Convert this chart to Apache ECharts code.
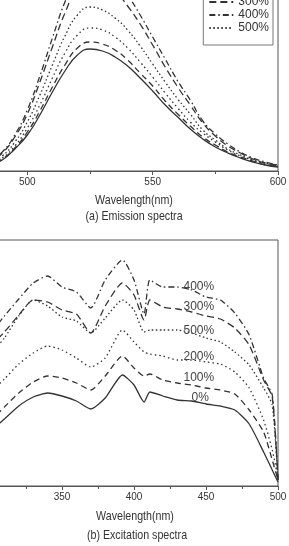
<!DOCTYPE html>
<html>
<head>
<meta charset="utf-8">
<script src="https://cdn.jsdelivr.net/npm/echarts@6/dist/echarts.min.js"></script>
<style>
  html, body { margin: 0; padding: 0; background: #fff; }
  #mychart { width: 289px; height: 546px; }
</style>
</head>
<body>
<div id="mychart"></div>
<script>
  // (a) emission spectra, arbitrary intensity
  var emWave = [480, 485, 490, 495, 500, 505, 510, 515, 520, 525, 530, 535, 540,
    545, 550, 555, 560, 565, 570, 575, 580, 585, 590, 595, 600]
  var em0 = [2, 6, 11, 22, 36, 56, 79, 100, 116, 122, 120, 114, 105, 93, 80, 66, 54, 42, 32, 24, 18, 13, 9, 6, 4]
  var em100 = [3, 6, 12, 23, 39, 60, 84, 106, 123, 129, 127, 121, 111, 98, 85, 70, 57, 45, 34, 26, 19, 14, 10, 6, 5]
  var em200 = [3, 7, 13, 25, 43, 66, 93, 118, 136, 143, 141, 134, 123, 109, 94, 78, 63, 49, 38, 29, 21, 15, 11, 7, 5]
  var em300 = [4, 9, 18, 34, 57, 89, 124, 158, 183, 192, 189, 180, 165, 147, 126, 104, 84, 66, 48, 35, 25, 18, 12, 8, 6]
  var em400 = [4, 9, 19, 36, 61, 95, 133, 169, 195, 205, 202, 192, 176, 156, 134, 112, 90, 71, 50, 37, 27, 19, 13, 9, 6]
  var em500 = [3, 8, 15, 29, 49, 76, 106, 135, 156, 164, 161, 153, 141, 125, 107, 89, 72, 57, 41, 31, 22, 16, 11, 8, 5]

  // (b) excitation spectra
  var exWave = [300, 310, 320, 330, 340, 350, 360, 370, 380, 392, 400, 407, 411,
    420, 430, 440, 450, 460, 470, 480, 490, 496, 500]
  var ex0 = [54, 67, 80, 89, 93, 90, 85, 77, 88, 111, 101, 84, 94, 90, 86, 85, 82, 80, 76, 62, 34, 16, 4]
  var ex100 = [64, 79, 93, 104, 110, 108, 103, 96, 110, 130, 118, 110, 112, 106, 103, 101, 98, 96, 92, 76, 54, 26, 6]
  var ex200 = [93, 107, 122, 133, 140, 136, 128, 119, 128, 156, 144, 134, 132, 130, 126, 126, 124, 122, 114, 98, 66, 36, 8]
  var ex300 = [139, 154, 171, 186, 184, 176, 172, 153, 180, 203, 191, 166, 186, 179, 177, 174, 170, 167, 158, 141, 106, 89, 6]
  var ex400 = [152, 170, 187, 203, 210, 199, 194, 178, 206, 226, 206, 172, 206, 199, 199, 196, 189, 186, 173, 151, 108, 91, 6]
  var ex500 = [131, 148, 170, 186, 180, 169, 165, 153, 168, 186, 176, 154, 156, 156, 156, 153, 148, 144, 134, 121, 98, 81, 6]

  var names = ['0%', '100%', '200%', '300%', '400%', '500%']

  var font = "'Liberation Sans', Arial, sans-serif"
  var ink = '#333'
  var dashes = ['solid', [6, 4], [1.5, 3], [7, 4], [6, 3, 1.5, 3], [1.5, 2.5]]

  function pairs(xs, ys) {
    return xs.map(function (x, i) { return [x, ys[i]] })
  }

  function lineSeries(name, i, xs, ys, grid, extra) {
    var s = {
      name: name,
      type: 'line',
      xAxisIndex: grid,
      yAxisIndex: grid,
      data: pairs(xs, ys),
      showSymbol: false,
      symbol: 'none',
      smooth: grid === 0 ? true : 0.2,
      lineStyle: { color: ink, width: 1.3, type: dashes[i] },
      itemStyle: { color: ink },
      animation: false
    }
    if (extra) {
      s.markPoint = {
        symbol: 'circle',
        symbolSize: 0,
        silent: true,
        label: {
          show: true,
          position: 'inside',
          formatter: name,
          color: '#444',
          fontFamily: font,
          fontSize: 12
        },
        data: [{ coord: extra }]
      }
    }
    return s
  }

  // where the labels sit in panel (b), in data units
  var labelAt = [[446, 88], [445, 108], [445, 129], [445, 179], [445, 199], [445, 155]]

  var emData = [em0, em100, em200, em300, em400, em500]
  var exData = [ex0, ex100, ex200, ex300, ex400, ex500]

  var series = []
  names.forEach(function (n, i) {
    series.push(lineSeries(n, i, emWave, emData[i], 0))
  })
  names.forEach(function (n, i) {
    series.push(lineSeries(n, i, exWave, exData[i], 1, labelAt[i]))
  })

  function xAx(grid, min, max) {
    return {
      type: 'value',
      gridIndex: grid,
      min: min,
      max: max,
      interval: 50,
      axisLine: { show: true, lineStyle: { color: '#555', width: 1 } },
      axisTick: { show: true, length: 4, lineStyle: { color: '#555' } },
      minorTick: { show: true, splitNumber: 2, length: 3, lineStyle: { color: '#555' } },
      splitLine: { show: false },
      axisLabel: { color: ink, fontFamily: font, fontSize: 10, margin: 6 }
    }
  }
  function yAx(grid, max) {
    return {
      type: 'value',
      gridIndex: grid,
      min: 0,
      max: max,
      show: false,
      splitLine: { show: false }
    }
  }

  function caption(text, x, y) {
    return {
      type: 'text', x: x, y: y, scaleX: 0.82,
      style: { text: text, textAlign: 'center', textVerticalAlign: 'middle', font: '13px ' + font, fill: ink }
    }
  }

  var chart = echarts.init(document.getElementById('mychart'))
  chart.setOption({
    animation: false,
    backgroundColor: '#fff',
    grid: [
      { left: -98, right: 11, top: -80, height: 251, show: true, borderColor: '#555', borderWidth: 1,
        containLabel: false, outerBoundsMode: 'none' },
      { left: -10, right: 11, top: 240, height: 246, show: true, borderColor: '#555', borderWidth: 1,
        containLabel: false, outerBoundsMode: 'none' }
    ],
    xAxis: [xAx(0, 450, 600), xAx(1, 300, 500)],
    yAxis: [yAx(0, 251), yAx(1, 246)],
    legend: {
      data: names,
      orient: 'vertical',
      right: 16,
      top: -48,
      padding: [5, 4, 11, 5],
      itemWidth: 24,
      itemHeight: 10,
      itemGap: 1,
      borderColor: '#777',
      borderWidth: 1,
      backgroundColor: '#fff',
      itemStyle: { opacity: 0 },
      textStyle: { color: ink, fontFamily: font, fontSize: 12 }
    },
    graphic: [
      caption('Wavelength(nm)', 134, 200),
      caption('(a) Emission spectra', 134, 216),
      caption('Wavelength(nm)', 135, 516),
      caption('(b) Excitation spectra', 137, 535)
    ],
    series: series
  })
</script>
</body>
</html>
